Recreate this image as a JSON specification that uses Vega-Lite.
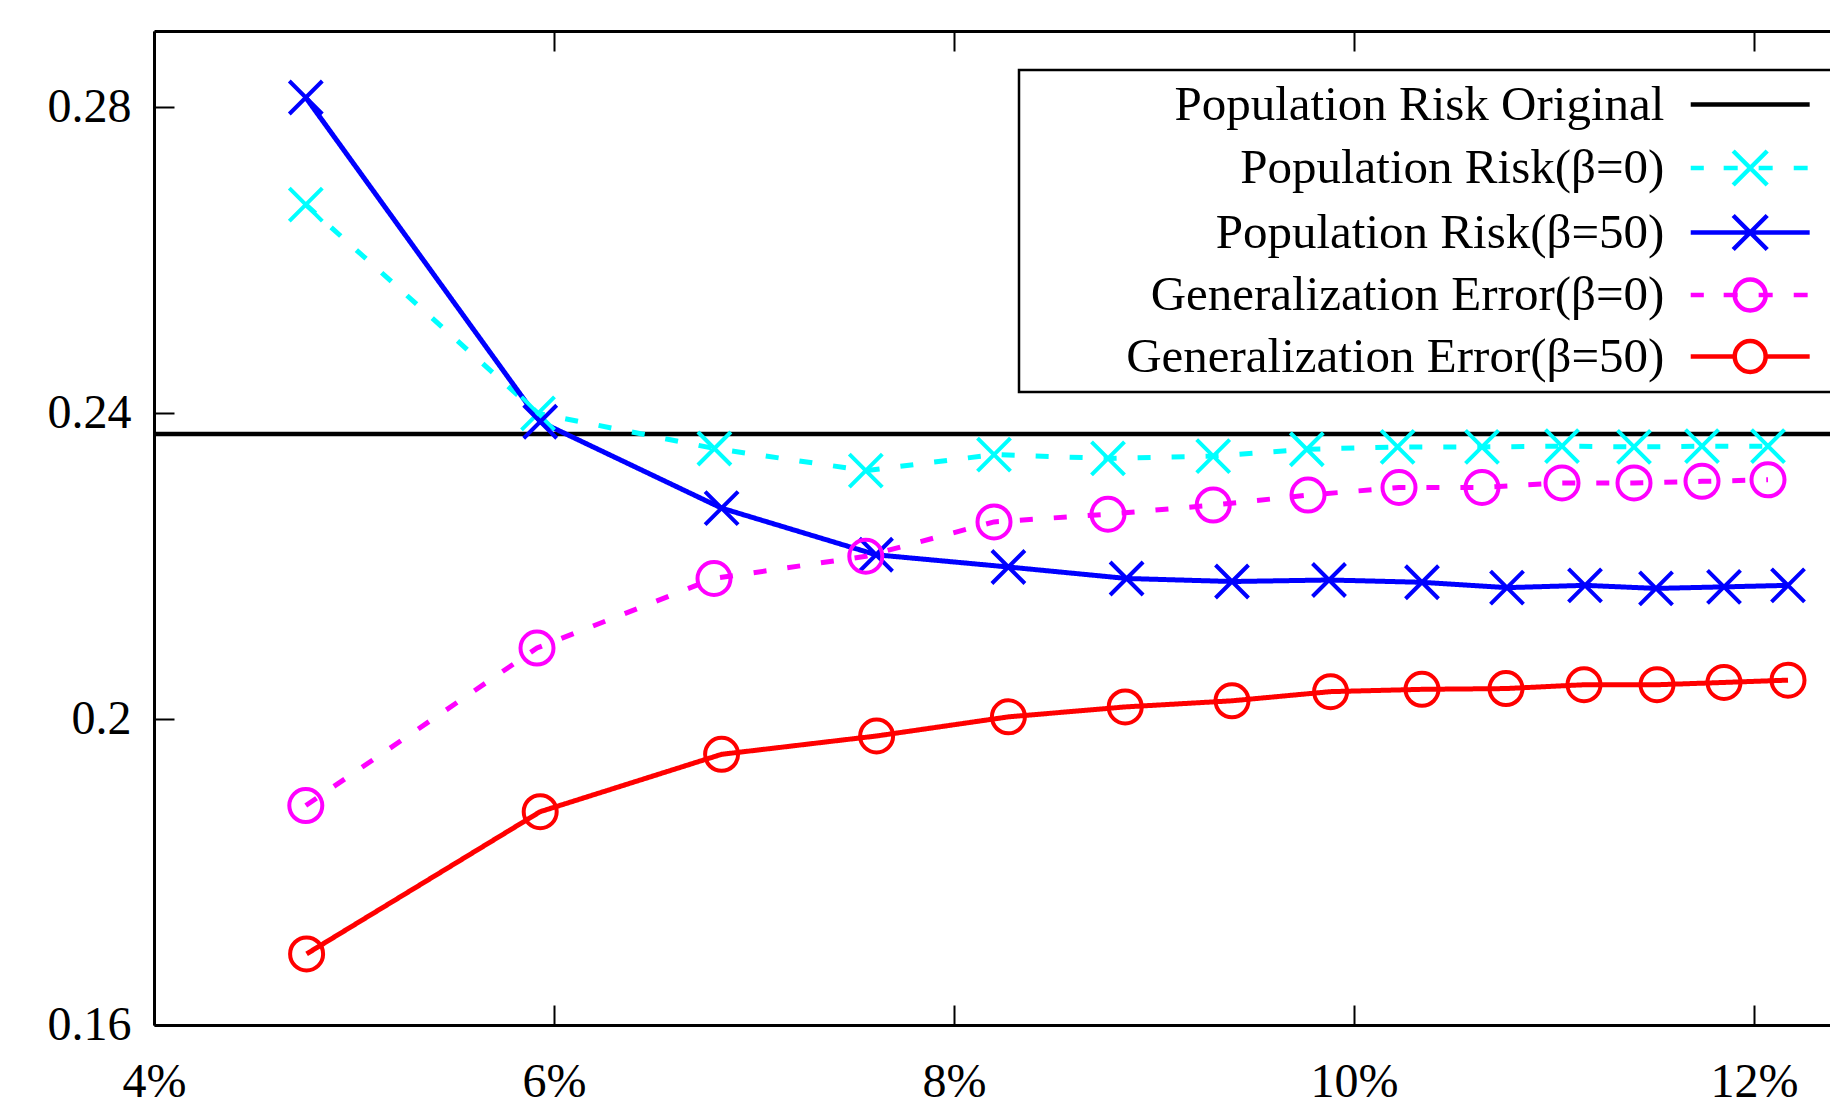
{
  "$schema": "https://vega.github.io/schema/vega-lite/v6.json",
  "width": 1676,
  "height": 994,
  "autosize": {"type": "none"},
  "padding": {"left": 154, "top": 31, "right": 0, "bottom": 77},
  "background": "white",
  "config": {
    "view": {"stroke": null},
    "axis": {
      "labelFont": "Liberation Serif",
      "labelFontSize": 48,
      "labelColor": "black",
      "domainColor": "black",
      "domainWidth": 3,
      "tickColor": "black",
      "tickWidth": 2,
      "tickSize": -20,
      "grid": false,
      "title": null
    },
    "legend": {
      "labelFont": "Liberation Serif",
      "labelFontSize": 49,
      "labelColor": "black",
      "labelLimit": 0
    }
  },
  "data": {
    "values": [
      {"series": "Population Risk(β=0)", "x": 4.759, "y": 0.2673},
      {"series": "Population Risk(β=0)", "x": 5.92, "y": 0.24},
      {"series": "Population Risk(β=0)", "x": 6.802, "y": 0.2354},
      {"series": "Population Risk(β=0)", "x": 7.559, "y": 0.2325},
      {"series": "Population Risk(β=0)", "x": 8.2, "y": 0.2346},
      {"series": "Population Risk(β=0)", "x": 8.77, "y": 0.2341},
      {"series": "Population Risk(β=0)", "x": 9.296, "y": 0.2344},
      {"series": "Population Risk(β=0)", "x": 9.764, "y": 0.2353},
      {"series": "Population Risk(β=0)", "x": 10.218, "y": 0.2356},
      {"series": "Population Risk(β=0)", "x": 10.64, "y": 0.2356},
      {"series": "Population Risk(β=0)", "x": 11.04, "y": 0.2357},
      {"series": "Population Risk(β=0)", "x": 11.4, "y": 0.2356},
      {"series": "Population Risk(β=0)", "x": 11.74, "y": 0.2357},
      {"series": "Population Risk(β=0)", "x": 12.07, "y": 0.2357},
      {"series": "Population Risk(β=50)", "x": 4.759, "y": 0.2813},
      {"series": "Population Risk(β=50)", "x": 5.931, "y": 0.2389},
      {"series": "Population Risk(β=50)", "x": 6.838, "y": 0.2276},
      {"series": "Population Risk(β=50)", "x": 7.61, "y": 0.2215},
      {"series": "Population Risk(β=50)", "x": 8.272, "y": 0.2199},
      {"series": "Population Risk(β=50)", "x": 8.863, "y": 0.2184},
      {"series": "Population Risk(β=50)", "x": 9.39, "y": 0.218},
      {"series": "Population Risk(β=50)", "x": 9.875, "y": 0.2182},
      {"series": "Population Risk(β=50)", "x": 10.34, "y": 0.2179},
      {"series": "Population Risk(β=50)", "x": 10.765, "y": 0.2172},
      {"series": "Population Risk(β=50)", "x": 11.155, "y": 0.2175},
      {"series": "Population Risk(β=50)", "x": 11.51, "y": 0.2171},
      {"series": "Population Risk(β=50)", "x": 11.85, "y": 0.2173},
      {"series": "Population Risk(β=50)", "x": 12.17, "y": 0.2175},
      {"series": "Generalization Error(β=0)", "x": 4.759, "y": 0.1887},
      {"series": "Generalization Error(β=0)", "x": 5.915, "y": 0.2093},
      {"series": "Generalization Error(β=0)", "x": 6.8, "y": 0.2184},
      {"series": "Generalization Error(β=0)", "x": 7.559, "y": 0.2213},
      {"series": "Generalization Error(β=0)", "x": 8.2, "y": 0.2258},
      {"series": "Generalization Error(β=0)", "x": 8.77, "y": 0.2268},
      {"series": "Generalization Error(β=0)", "x": 9.296, "y": 0.228},
      {"series": "Generalization Error(β=0)", "x": 9.77, "y": 0.2293},
      {"series": "Generalization Error(β=0)", "x": 10.225, "y": 0.2303},
      {"series": "Generalization Error(β=0)", "x": 10.64, "y": 0.2303},
      {"series": "Generalization Error(β=0)", "x": 11.04, "y": 0.2309},
      {"series": "Generalization Error(β=0)", "x": 11.4, "y": 0.2309},
      {"series": "Generalization Error(β=0)", "x": 11.74, "y": 0.2311},
      {"series": "Generalization Error(β=0)", "x": 12.07, "y": 0.2313},
      {"series": "Generalization Error(β=50)", "x": 4.763, "y": 0.1693},
      {"series": "Generalization Error(β=50)", "x": 5.931, "y": 0.1879},
      {"series": "Generalization Error(β=50)", "x": 6.838, "y": 0.1954},
      {"series": "Generalization Error(β=50)", "x": 7.613, "y": 0.1978},
      {"series": "Generalization Error(β=50)", "x": 8.272, "y": 0.2003},
      {"series": "Generalization Error(β=50)", "x": 8.856, "y": 0.2016},
      {"series": "Generalization Error(β=50)", "x": 9.39, "y": 0.2024},
      {"series": "Generalization Error(β=50)", "x": 9.883, "y": 0.2036},
      {"series": "Generalization Error(β=50)", "x": 10.34, "y": 0.2039},
      {"series": "Generalization Error(β=50)", "x": 10.76, "y": 0.204},
      {"series": "Generalization Error(β=50)", "x": 11.15, "y": 0.2045},
      {"series": "Generalization Error(β=50)", "x": 11.515, "y": 0.2045},
      {"series": "Generalization Error(β=50)", "x": 11.85, "y": 0.2048},
      {"series": "Generalization Error(β=50)", "x": 12.17, "y": 0.2051}
    ]
  },
  "resolve": {"axis": {"x": "independent"}},
  "layer": [
    {
      "data": {"values": [{"series": "Population Risk Original", "y": 0.2373}]},
      "mark": {"type": "rule", "strokeWidth": 4.5},
      "encoding": {
        "y": {
          "field": "y", "type": "quantitative",
          "scale": {"domain": [0.16, 0.29], "nice": false, "zero": false},
          "axis": {"orient": "left", "values": [0.16, 0.2, 0.24, 0.28], "format": ".2~f", "labelPadding": 43, "labelAlign": "right", "labelBaseline": "middle"}
        },
        "color": {
          "field": "series", "type": "nominal",
          "scale": {
            "domain": ["Population Risk Original", "Population Risk(β=0)", "Population Risk(β=50)", "Generalization Error(β=0)", "Generalization Error(β=50)"],
            "range": ["#000000", "#00ffff", "#0000ff", "#ff00ff", "#ff0000"]
          },
          "legend": {
            "title": null,
            "orient": "none",
            "legendX": 865,
            "legendY": 39,
            "padding": 10,
            "strokeColor": "black",
            "fillColor": "white",
            "rowPadding": 11.5,
            "labelAlign": "right",
            "labelBaseline": "middle",
            "labelOffset": -110.3,
            "symbolOffset": 696.7,
            "symbolSize": 566,
            "symbolStrokeWidth": 4,
            "labelFont": "Liberation Serif",
            "labelFontSize": 49,
            "labelLimit": 0,
            "encode": {
              "legend": {"update": {"strokeWidth": {"value": 2.5}}},
              "symbols": {
                "update": {
                  "shape": {"signal": "datum.value == 'Population Risk Original' ? 'M12,0M-5,0H5' : datum.value == 'Population Risk(β=0)' ? 'M12,0M-5,0H-3.9M-2.23,0H-1.05M0.71,0H1.89M3.66,0H4.83M-1.43,-1.43L1.43,1.43M-1.43,1.43L1.43,-1.43' : datum.value == 'Population Risk(β=50)' ? 'M12,0M-5,0H5M-1.43,-1.43L1.43,1.43M-1.43,1.43L1.43,-1.43' : datum.value == 'Generalization Error(β=0)' ? 'M12,0M-5,0H-3.9M-2.23,0H-1.05M0.71,0H1.89M3.66,0H4.83M1.3,0A1.3,1.3 0 1,1 -1.3,0A1.3,1.3 0 1,1 1.3,0' : 'M12,0M-5,0H-1.3M1.3,0H5M1.3,0A1.3,1.3 0 1,1 -1.3,0A1.3,1.3 0 1,1 1.3,0'"},
                  "size": {"value": 566},
                  "fill": {"value": "transparent"},
                  "strokeWidth": {"value": 4.5},
                  "opacity": {"value": 1}
                }
              }
            }
          }
        }
      }
    },
    {
      "mark": {"type": "line", "strokeWidth": 5},
      "encoding": {
        "x": {
          "field": "x", "type": "quantitative",
          "scale": {"domain": [4, 12.38], "nice": false, "zero": false},
          "axis": {"orient": "bottom", "values": [4, 6, 8, 10, 12], "labelExpr": "datum.value + '%'", "labelPadding": 91, "labelBaseline": "alphabetic", "labelFlush": false}
        },
        "y": {"field": "y", "type": "quantitative"},
        "color": {"field": "series", "type": "nominal"},
        "strokeDash": {
          "field": "series", "type": "nominal",
          "scale": {
            "domain": ["Population Risk(β=0)", "Population Risk(β=50)", "Generalization Error(β=0)", "Generalization Error(β=50)"],
            "range": [[13, 21], [1, 0], [13, 21], [1, 0]]
          },
          "legend": null
        }
      }
    },
    {
      "mark": {"type": "point", "filled": false, "strokeWidth": 4, "opacity": 1},
      "encoding": {
        "x": {
          "field": "x", "type": "quantitative",
          "axis": {"orient": "top", "values": [4, 6, 8, 10, 12], "labels": false}
        },
        "y": {"field": "y", "type": "quantitative"},
        "color": {"field": "series", "type": "nominal"},
        "shape": {
          "field": "series", "type": "nominal",
          "scale": {
            "domain": ["Population Risk(β=0)", "Population Risk(β=50)", "Generalization Error(β=0)", "Generalization Error(β=50)"],
            "range": ["M-1,-1L1,1M-1,1L1,-1", "M-1,-1L1,1M-1,1L1,-1", "circle", "circle"]
          },
          "legend": null
        },
        "size": {
          "field": "series", "type": "nominal",
          "scale": {
            "domain": ["Population Risk(β=0)", "Population Risk(β=50)", "Generalization Error(β=0)", "Generalization Error(β=50)"],
            "range": [1089, 1089, 961, 961]
          },
          "legend": null
        }
      }
    }
  ]
}
